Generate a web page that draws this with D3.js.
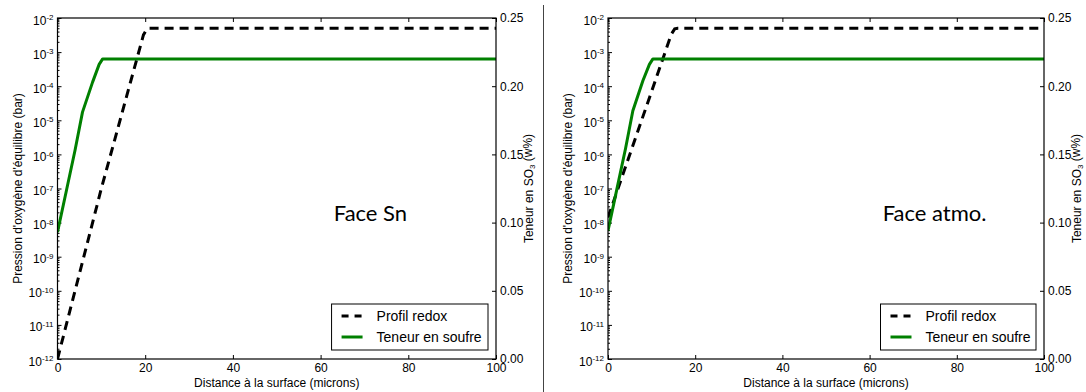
<!DOCTYPE html>
<html><head><meta charset="utf-8">
<script src="https://cdn.jsdelivr.net/npm/d3@7"></script>
<style>
body{margin:0;background:#fff;}
svg{display:block;font-family:"Liberation Sans",Arial,sans-serif;}
</style></head>
<body>
<svg id="chart" width="1086" height="392"></svg>
<script>
// ---- data ----
const xTicks = [0, 20, 40, 60, 80, 100];
const yLogExponents = [-12, -11, -10, -9, -8, -7, -6, -5, -4, -3, -2];
const so3Ticks = [0, 0.05, 0.10, 0.15, 0.20, 0.25];
const panelTitles = ["Face Sn", "Face atmo."];
const legendLabels = ["Profil redox", "Teneur en soufre"];

// Face Sn
const redoxSnX = [0, 10, 19.6, 20.4, 21, 100];
const redoxSnP = [1e-12, 1e-7, 3.2e-3, 4.8e-3, 5e-3, 5e-3];
const sulfurSnX = [0, 2, 4, 5.7, 8, 9.5, 10.3, 11, 100];
const sulfurSnV = [0.093, 0.123, 0.153, 0.181, 0.203, 0.216, 0.22, 0.22, 0.22];

// Face atmo.
const redoxAtmX = [0, 5, 10, 14.5, 15.3, 16, 100];
const redoxAtmP = [1.4e-8, 1.0e-6, 7e-5, 3.3e-3, 4.8e-3, 5e-3, 5e-3];
const sulfurAtmX = [0, 2, 4, 5.7, 8, 9.5, 10.3, 11, 100];
const sulfurAtmV = [0.094, 0.124, 0.154, 0.182, 0.204, 0.216, 0.22, 0.22, 0.22];

const panels = [
  {left: 57.5, right: 496, title: panelTitles[0], rx: redoxSnX, rp: redoxSnP, sx: sulfurSnX, sv: sulfurSnV},
  {left: 608, right: 1044, title: panelTitles[1], rx: redoxAtmX, rp: redoxAtmP, sx: sulfurAtmX, sv: sulfurAtmV}
];
const plotTop = 18, plotBottom = 359;
const svg = d3.select("#chart");

// separator
svg.append("line").attr("x1", 543.5).attr("x2", 543.5).attr("y1", 5).attr("y2", 392)
  .attr("stroke", "#444").attr("stroke-width", 1);

panels.forEach(p => {
  const g = svg.append("g");
  const x = d3.scaleLinear().domain([0, 100]).range([p.left, p.right]);
  const y = d3.scaleLog().domain([1e-12, 1e-2]).range([plotBottom, plotTop]);
  const y2 = d3.scaleLinear().domain([0, 0.25]).range([plotBottom, plotTop]);

  const minor = [];
  for (let e = -12; e < -2; e++) for (let m = 2; m <= 9; m++) minor.push(m * Math.pow(10, e));

  // left minor ticks
  g.append("g").attr("transform", `translate(${p.left},0)`)
    .call(d3.axisLeft(y).tickValues(minor).tickSize(-2).tickFormat(""))
    .call(s => s.select(".domain").remove())
    .selectAll("line").attr("stroke", "#000");
  // left major
  const ly = g.append("g").attr("transform", `translate(${p.left},0)`)
    .call(d3.axisLeft(y).tickValues(yLogExponents.map(e => Math.pow(10, e))).tickSize(-4).tickPadding(4).tickFormat(""));
  ly.select(".domain").remove();
  ly.selectAll("line").attr("stroke", "#000");
  ly.selectAll(".tick text").each(function(d) {
    const t = d3.select(this).attr("font-size", 12).attr("fill", "#000")
      .attr("font-family", "Liberation Sans, Arial, sans-serif").attr("dy", "0.5em");
    t.append("tspan").text("10");
    t.append("tspan").attr("dy", "-0.55em").attr("font-size", 8).text(String(Math.round(Math.log10(d))));
  });

  // bottom axis
  const bx = g.append("g").attr("transform", `translate(0,${plotBottom})`)
    .call(d3.axisBottom(x).tickValues(xTicks).tickSize(-4).tickPadding(4).tickFormat(d3.format("d")));
  bx.select(".domain").remove();
  bx.selectAll("line").attr("stroke", "#000");
  bx.selectAll("text").attr("font-size", 12).attr("fill", "#000").attr("font-family", "Liberation Sans, Arial, sans-serif");
  // top axis ticks
  const tx = g.append("g").attr("transform", `translate(0,${plotTop})`)
    .call(d3.axisTop(x).tickValues(xTicks).tickSize(-4).tickFormat(""));
  tx.select(".domain").remove();
  tx.selectAll("line").attr("stroke", "#000");

  // right axis
  const ry = g.append("g").attr("transform", `translate(${p.right},0)`)
    .call(d3.axisRight(y2).tickValues(so3Ticks).tickSize(-4).tickPadding(4).tickFormat(d3.format(".2f")));
  ry.select(".domain").remove();
  ry.selectAll("line").attr("stroke", "#000");
  ry.selectAll("text").attr("font-size", 12).attr("fill", "#000").attr("font-family", "Liberation Sans, Arial, sans-serif");

  // lines
  const clipId = "clip" + Math.round(p.left);
  svg.append("clipPath").attr("id", clipId).append("rect")
    .attr("x", p.left).attr("y", plotTop).attr("width", p.right - p.left).attr("height", plotBottom - plotTop);
  const redoxLine = d3.line().x(d => x(d[0])).y(d => y(d[1]));
  g.append("path").datum(p.rx.map((v, i) => [v, p.rp[i]]))
    .attr("d", redoxLine).attr("fill", "none").attr("stroke", "#000")
    .attr("stroke-width", 3).attr("stroke-dasharray", "9,6").attr("clip-path", `url(#${clipId})`);
  const sLine = d3.line().x(d => x(d[0])).y(d => y2(d[1]));
  g.append("path").datum(p.sx.map((v, i) => [v, p.sv[i]]))
    .attr("d", sLine).attr("fill", "none").attr("stroke", "#008000")
    .attr("stroke-width", 3).attr("stroke-linejoin", "round").attr("clip-path", `url(#${clipId})`);

  // frame
  g.append("rect").attr("x", p.left).attr("y", plotTop).attr("width", p.right - p.left).attr("height", plotBottom - plotTop)
    .attr("fill", "none").attr("stroke", "#000").attr("stroke-width", 1.2);

  // axis titles
  g.append("text").attr("x", (p.left + p.right) / 2).attr("y", 387).attr("text-anchor", "middle")
    .attr("font-size", 12).text("Distance à la surface (microns)");
  g.append("text").attr("transform", `translate(${p.left - 36},${(plotTop + plotBottom) / 2}) rotate(-90)`)
    .attr("text-anchor", "middle").attr("font-size", 12).text("Pression d'oxygène d'équilibre (bar)");
  const rt = g.append("text").attr("transform", `translate(${p.right + 37},${(plotTop + plotBottom) / 2}) rotate(-90)`)
    .attr("text-anchor", "middle").attr("font-size", 12);
  rt.append("tspan").text("Teneur en SO");
  rt.append("tspan").attr("font-size", 8).attr("dy", "0.3em").text("3");
  rt.append("tspan").attr("dy", "-0.3em").text(" (w%)");

  // panel title
  g.append("text").attr("x", x(63)).attr("y", 221).attr("font-family", "Lato, sans-serif")
    .attr("font-size", 22).attr("fill", "#000").text(p.title);

  // legend
  const lx = x(62.5), lyTop = 304;
  const lg = g.append("g");
  lg.append("rect").attr("x", lx).attr("y", lyTop).attr("width", p.right - 8 - lx).attr("height", 46)
    .attr("fill", "#fff").attr("stroke", "#000").attr("stroke-width", 1);
  lg.append("line").attr("x1", lx + 10).attr("x2", lx + 31).attr("y1", lyTop + 12).attr("y2", lyTop + 12)
    .attr("stroke", "#000").attr("stroke-width", 3).attr("stroke-dasharray", "7,6");
  lg.append("line").attr("x1", lx + 10).attr("x2", lx + 31).attr("y1", lyTop + 33).attr("y2", lyTop + 33)
    .attr("stroke", "#008000").attr("stroke-width", 3);
  lg.append("text").attr("x", lx + 45).attr("y", lyTop + 17).attr("font-size", 14).text(legendLabels[0]);
  lg.append("text").attr("x", lx + 45).attr("y", lyTop + 38).attr("font-size", 14).text(legendLabels[1]);
});
</script>
</body></html>
